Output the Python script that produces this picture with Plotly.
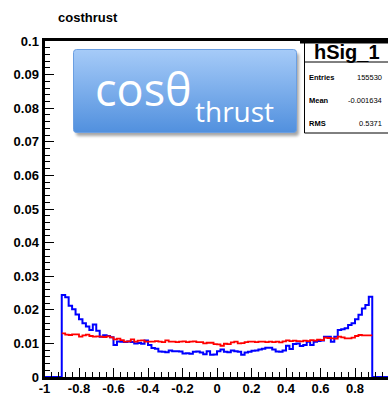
import base64
import numpy as np
import plotly.graph_objects as go

# ---------------- data ----------------
bin_lo = -0.9
bin_width = 0.02
n_bins = 90

blue_vals = [
    0.0244, 0.0237, 0.0212, 0.0202, 0.0186, 0.0172, 0.0160, 0.0150, 0.0140, 0.0156,
    0.0138, 0.0120, 0.0124, 0.0122, 0.0118, 0.0095, 0.0106,
    0.0105, 0.0104, 0.0106, 0.0104, 0.0100, 0.0101, 0.0099, 0.0109, 0.0095, 0.0086,
    0.0084, 0.0076, 0.0075, 0.0074, 0.0079, 0.0077, 0.0077, 0.0076, 0.0070, 0.0071,
    0.0069, 0.0075, 0.0076,
    0.0073, 0.0068, 0.0077, 0.0066, 0.0067, 0.0077, 0.0082, 0.0075, 0.0074, 0.0079,
    0.0077, 0.0075, 0.0066, 0.0073, 0.0075, 0.0078, 0.0079, 0.0082, 0.0084, 0.0087,
    0.0087, 0.0082, 0.0076, 0.0075, 0.0079, 0.0093, 0.0083, 0.0098, 0.0100, 0.0092,
    0.0095, 0.0105, 0.0095, 0.0105, 0.0107, 0.0109, 0.0120, 0.0120, 0.0105, 0.0120,
    0.0140, 0.0142, 0.0145, 0.0155, 0.0160, 0.0172, 0.0185, 0.0204, 0.0214, 0.0239,
]

red_vals = [
    0.0130, 0.0126, 0.0125, 0.0127, 0.0127, 0.0120, 0.0124, 0.0126, 0.0122, 0.0120,
    0.0121, 0.0120, 0.0119, 0.0121, 0.0118, 0.0112, 0.0114,
    0.0110, 0.0105, 0.0106, 0.0112, 0.0105, 0.0108, 0.0109, 0.0105, 0.0105, 0.0105,
    0.0107, 0.0105, 0.0104, 0.0109, 0.0105, 0.0105, 0.0104, 0.0105, 0.0106, 0.0104,
    0.0105, 0.0106, 0.0104,
    0.0104, 0.0100, 0.0102, 0.0102, 0.0098, 0.0097, 0.0093, 0.0099, 0.0098, 0.0103,
    0.0105, 0.0100, 0.0101, 0.0104, 0.0105, 0.0105, 0.0104, 0.0105, 0.0105, 0.0104,
    0.0105, 0.0104, 0.0105, 0.0103, 0.0106, 0.0109, 0.0107, 0.0108, 0.0107, 0.0106,
    0.0108, 0.0107, 0.0110, 0.0108, 0.0111, 0.0110, 0.0117, 0.0116, 0.0115, 0.0114,
    0.0120, 0.0118, 0.0115, 0.0115, 0.0117, 0.0122, 0.0125, 0.0124, 0.0124, 0.0124,
]

x_tickvals = [-1, -0.8, -0.6, -0.4, -0.2, 0, 0.2, 0.4, 0.6, 0.8]
x_ticktext = ["-1", "-0.8", "-0.6", "-0.4", "-0.2", "0", "0.2", "0.4", "0.6", "0.8"]
y_tickvals = [0, 0.01, 0.02, 0.03, 0.04, 0.05, 0.06, 0.07, 0.08, 0.09, 0.1]
y_ticktext = ["0", "0.01", "0.02", "0.03", "0.04", "0.05", "0.06", "0.07", "0.08", "0.09", "0.1"]

hist_title = "costhrust"
stats_name = "hSig_1"
stats_labels = ["Entries", "Mean", "RMS"]
stats_values = ["155530", "-0.001634", "0.5371"]

# ---------------- figure ----------------
W, H = 388, 393
edges = np.round(bin_lo + bin_width * np.arange(n_bins + 1), 4)


def px(x):
    return x / W


def py(y):
    return 1 - y / H


fig = go.Figure()

bx = [-1.0] + list(edges[:-1]) + [edges[-1], 1.0]
by = [0.0] + blue_vals + [0.0, 0.0]
fig.add_trace(go.Scatter(x=bx, y=by, mode="lines", line=dict(color="#0000ff", width=2, shape="hv"),
                         hoverinfo="skip", showlegend=False))

rx = list(edges[:-1]) + [edges[-1]]
ry = red_vals + [red_vals[-1]]
fig.add_trace(go.Scatter(x=rx, y=ry, mode="lines", line=dict(color="#ff0000", width=1.8, shape="hv"),
                         hoverinfo="skip", showlegend=False))

tickfont = dict(family="Liberation Sans", size=13, color="black", weight="bold")

x_left_px = 44.5
x_unit_px = 172.5
x_right_val = -1 + (W - x_left_px) / x_unit_px

fig.update_layout(
    width=W, height=H,
    margin=dict(l=0, r=0, t=0, b=0),
    paper_bgcolor="white", plot_bgcolor="white",
    showlegend=False,
    xaxis=dict(
        domain=[px(x_left_px), 1.0], range=[-1, x_right_val],
        showgrid=False, zeroline=False,
        showline=True, linecolor="black", linewidth=3, mirror=True,
        ticks="inside", ticklen=9, tickwidth=1.3, tickcolor="black",
        tickvals=x_tickvals, ticktext=x_ticktext, tickfont=tickfont,
        ticklabelstandoff=-3,
        minor=dict(ticks="inside", ticklen=5, tickwidth=1.1, tickcolor="black", dtick=0.04, tick0=-1),
        automargin=False,
    ),
    yaxis=dict(
        domain=[py(377), py(41)], range=[0, 0.1],
        showgrid=False, zeroline=False,
        showline=True, linecolor="black", linewidth=3,
        ticks="inside", ticklen=9, tickwidth=1.3, tickcolor="black",
        tickvals=y_tickvals, ticktext=y_ticktext, tickfont=tickfont,
        minor=dict(ticks="inside", ticklen=5, tickwidth=1.1, tickcolor="black", dtick=0.002, tick0=0),
        automargin=False,
    ),
)

annotations = []
annotations.append(dict(x=px(56), y=py(17), xref="paper", yref="paper", text=hist_title,
                        showarrow=False, xanchor="left", yanchor="middle",
                        font=dict(family="Liberation Sans", size=13, color="black", weight="bold")))

shapes = [dict(type="rect", xref="paper", yref="paper", x0=px(304.5), x1=px(392), y0=py(133), y1=py(42),
               fillcolor="white", line=dict(color="black", width=1), layer="above"),
          dict(type="line", xref="paper", yref="paper", x0=px(304.5), x1=px(392), y0=py(62), y1=py(62),
               line=dict(color="black", width=1), layer="above"),
          dict(type="line", xref="paper", yref="paper", x0=px(300), x1=px(392), y0=py(42), y1=py(42),
               line=dict(color="black", width=3), layer="above")]
annotations.append(dict(x=px(347), y=py(52), xref="paper", yref="paper", text=stats_name,
                        showarrow=False, xanchor="center", yanchor="middle",
                        font=dict(family="Liberation Sans", size=20, color="black", weight="bold")))
for i, (lab, val) in enumerate(zip(stats_labels, stats_values)):
    yy = 77 + 23.5 * i
    annotations.append(dict(x=px(307), y=py(yy), xref="paper", yref="paper", text=lab,
                            showarrow=False, xanchor="left", yanchor="middle",
                            font=dict(family="Liberation Sans", size=7.5, color="black", weight="bold")))
    annotations.append(dict(x=px(384), y=py(yy), xref="paper", yref="paper", text=val,
                            showarrow=False, xanchor="right", yanchor="middle",
                            font=dict(family="Liberation Sans", size=7.5, color="black")))

bw, bh = 223, 83
svg = (
    f'<svg xmlns="http://www.w3.org/2000/svg" width="{bw + 8}" height="{bh + 8}">'
    '<defs><linearGradient id="g" x1="0" y1="0" x2="0" y2="1">'
    '<stop offset="0" stop-color="#a6cbf8"/><stop offset="1" stop-color="#5190de"/>'
    '</linearGradient><filter id="s" x="-10%" y="-10%" width="130%" height="130%">'
    '<feGaussianBlur stdDeviation="1.8"/></filter></defs>'
    f'<rect x="3" y="4" width="{bw}" height="{bh}" rx="3" fill="#000" opacity="0.35" filter="url(#s)"/>'
    f'<rect x="0.5" y="0.5" width="{bw}" height="{bh}" rx="3" fill="url(#g)" stroke="#6b9fe2" stroke-width="1"/>'
    '</svg>'
)
src = "data:image/svg+xml;base64," + base64.b64encode(svg.encode()).decode()
fig.add_layout_image(dict(source=src, xref="paper", yref="paper", x=px(73), y=py(49),
                          sizex=px(bw + 8), sizey=(bh + 8) / H, sizing="stretch",
                          xanchor="left", yanchor="top", layer="above"))

annotations.append(dict(x=px(93), y=py(88), xref="paper", yref="paper", text="cosθ",
                        showarrow=False, xanchor="left", yanchor="middle",
                        font=dict(family="Open Sans", size=45, color="white")))
annotations.append(dict(x=px(193), y=py(111), xref="paper", yref="paper", text="thrust",
                        showarrow=False, xanchor="left", yanchor="middle",
                        font=dict(family="Open Sans", size=28, color="white")))

fig.update_layout(annotations=annotations, shapes=shapes)
fig.write_html("out.html")
